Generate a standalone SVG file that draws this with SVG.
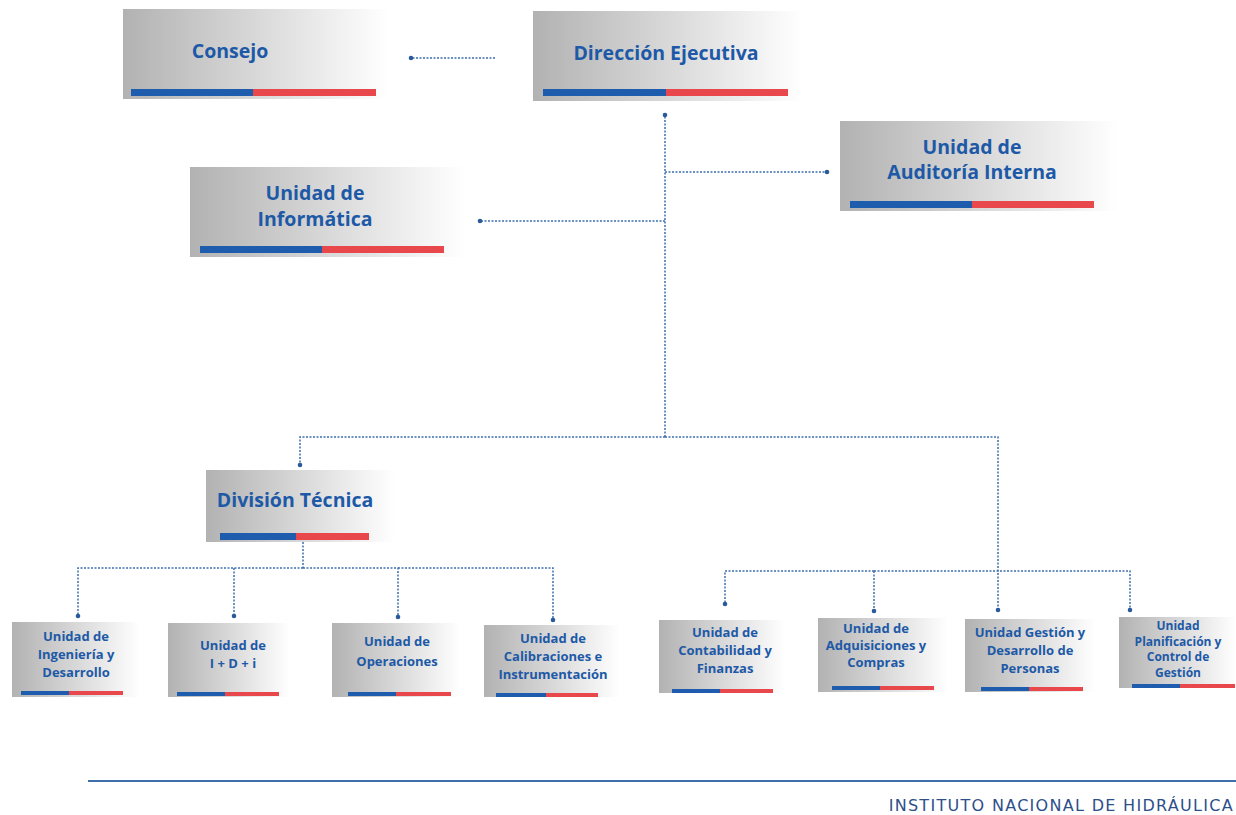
<svg xmlns="http://www.w3.org/2000/svg" width="1236" height="815" viewBox="0 0 1236 815">
<defs>
<linearGradient id="g" x1="0" y1="0" x2="1" y2="0">
<stop offset="0" stop-color="#b2b2b2"/>
<stop offset="0.55" stop-color="#dcdcdc"/>
<stop offset="1" stop-color="#ffffff"/>
</linearGradient>
<marker id="dot" markerWidth="6" markerHeight="6" refX="3" refY="3" markerUnits="userSpaceOnUse">
<circle cx="3" cy="3" r="2.3" fill="#2a5a9a"/>
</marker>
<style>
.box{fill:url(#g)}
.t{font-family:"Open Sans","Liberation Sans",sans-serif;font-weight:700;fill:#1d59a6;text-anchor:middle}
.big{font-size:19.5px}
.sm{font-size:13px}
.xs{font-size:12px}
.c{fill:none;stroke:#3b6fb0;stroke-width:1.5;stroke-dasharray:2 1.5}
.b{fill:#1e5cae}
.r{fill:#e8474b}
</style>
</defs>
<rect width="1236" height="815" fill="#ffffff"/>

<g id="connectors">
<path class="c" d="M495 58 H411" marker-end="url(#dot)"/>
<path class="c" d="M665 437 V115" marker-end="url(#dot)"/>
<path class="c" d="M665 172 H827" marker-end="url(#dot)"/>
<path class="c" d="M665 221 H480" marker-end="url(#dot)"/>
<path class="c" d="M665 437 H300 V465" marker-end="url(#dot)"/>
<path class="c" d="M665 437 H998 V610" marker-end="url(#dot)"/>
<path class="c" d="M303 542 V568"/>
<path class="c" d="M303 568 H78 V616" marker-end="url(#dot)"/>
<path class="c" d="M234 568 V616" marker-end="url(#dot)"/>
<path class="c" d="M303 568 H398 V617" marker-end="url(#dot)"/>
<path class="c" d="M398 568 H553 V620" marker-end="url(#dot)"/>
<path class="c" d="M874 571 H725 V604" marker-end="url(#dot)"/>
<path class="c" d="M874 571 V611" marker-end="url(#dot)"/>
<path class="c" d="M874 571 H1130 V610" marker-end="url(#dot)"/>
</g>

<g id="consejo">
<rect class="box" x="123" y="9" width="265" height="90"/>
<text class="t big" x="230" y="58">Consejo</text>
<rect class="b" x="131" y="89" width="122" height="7"/><rect class="r" x="253" y="89" width="123" height="7"/>
</g>

<g id="direccion">
<rect class="box" x="533" y="11" width="270" height="90"/>
<text class="t big" x="666" y="60">Dirección Ejecutiva</text>
<rect class="b" x="543" y="89" width="123" height="7"/><rect class="r" x="666" y="89" width="122" height="7"/>
</g>

<g id="auditoria">
<rect class="box" x="840" y="121" width="278" height="90"/>
<text class="t big" x="972" y="154">Unidad de</text>
<text class="t big" x="972" y="179">Auditoría Interna</text>
<rect class="b" x="850" y="201" width="122" height="7"/><rect class="r" x="972" y="201" width="122" height="7"/>
</g>

<g id="informatica">
<rect class="box" x="190" y="167" width="275" height="90"/>
<text class="t big" x="315" y="200">Unidad de</text>
<text class="t big" x="315" y="226">Informática</text>
<rect class="b" x="200" y="246" width="122" height="7"/><rect class="r" x="322" y="246" width="122" height="7"/>
</g>

<g id="division">
<rect class="box" x="206" y="470" width="189" height="72"/>
<text class="t big" x="295" y="507">División Técnica</text>
<rect class="b" x="220" y="533" width="76" height="7"/><rect class="r" x="296" y="533" width="73" height="7"/>
</g>

<g id="ingenieria">
<rect class="box" x="12" y="622" width="128" height="75"/>
<text class="t sm" x="76" y="641">Unidad de</text>
<text class="t sm" x="76" y="659">Ingeniería y</text>
<text class="t sm" x="76" y="677">Desarrollo</text>
<rect class="b" x="21" y="691" width="48" height="4"/><rect class="r" x="69" y="691" width="54" height="4"/>
</g>

<g id="idi">
<rect class="box" x="168" y="623" width="122" height="74"/>
<text class="t sm" x="233" y="650">Unidad de</text>
<text class="t sm" x="233" y="668">I + D + i</text>
<rect class="b" x="177" y="692" width="48" height="4"/><rect class="r" x="225" y="692" width="54" height="4"/>
</g>

<g id="operaciones">
<rect class="box" x="332" y="623" width="128" height="74"/>
<text class="t sm" x="397" y="646">Unidad de</text>
<text class="t sm" x="397" y="666">Operaciones</text>
<rect class="b" x="348" y="692" width="48" height="4"/><rect class="r" x="396" y="692" width="55" height="4"/>
</g>

<g id="calibraciones">
<rect class="box" x="484" y="625" width="136" height="72"/>
<text class="t sm" x="553" y="643">Unidad de</text>
<text class="t sm" x="553" y="661">Calibraciones e</text>
<text class="t sm" x="553" y="679">Instrumentación</text>
<rect class="b" x="496" y="693" width="50" height="4"/><rect class="r" x="546" y="693" width="52" height="4"/>
</g>

<g id="contabilidad">
<rect class="box" x="659" y="620" width="126" height="73"/>
<text class="t sm" x="725" y="637">Unidad de</text>
<text class="t sm" x="725" y="655">Contabilidad y</text>
<text class="t sm" x="725" y="673">Finanzas</text>
<rect class="b" x="672" y="689" width="48" height="4"/><rect class="r" x="720" y="689" width="53" height="4"/>
</g>

<g id="adquisiciones">
<rect class="box" x="818" y="618" width="130" height="74"/>
<text class="t sm" x="876" y="633">Unidad de</text>
<text class="t sm" x="876" y="650">Adquisiciones y</text>
<text class="t sm" x="876" y="667">Compras</text>
<rect class="b" x="832" y="686" width="48" height="4"/><rect class="r" x="880" y="686" width="54" height="4"/>
</g>

<g id="gestion">
<rect class="box" x="965" y="619" width="130" height="73"/>
<text class="t sm" x="1030" y="637">Unidad Gestión y</text>
<text class="t sm" x="1030" y="655">Desarrollo de</text>
<text class="t sm" x="1030" y="673">Personas</text>
<rect class="b" x="981" y="687" width="48" height="4"/><rect class="r" x="1029" y="687" width="54" height="4"/>
</g>

<g id="planificacion">
<rect class="box" x="1119" y="617" width="117" height="71"/>
<text class="t xs" x="1178" y="630">Unidad</text>
<text class="t xs" x="1178" y="645.5">Planificación y</text>
<text class="t xs" x="1178" y="661">Control de</text>
<text class="t xs" x="1178" y="676.5">Gestión</text>
<rect class="b" x="1132" y="684" width="48" height="4"/><rect class="r" x="1180" y="684" width="55" height="4"/>
</g>

<g id="footer">
<line x1="88" y1="781" x2="1236" y2="781" stroke="#3d6fa8" stroke-width="2"/>
<text x="1234" y="811" font-family="DejaVu Sans, sans-serif" font-size="16" fill="#2d4f8a" text-anchor="end" letter-spacing="1.3">INSTITUTO NACIONAL DE HIDRÁULICA</text>
</g>
</svg>
